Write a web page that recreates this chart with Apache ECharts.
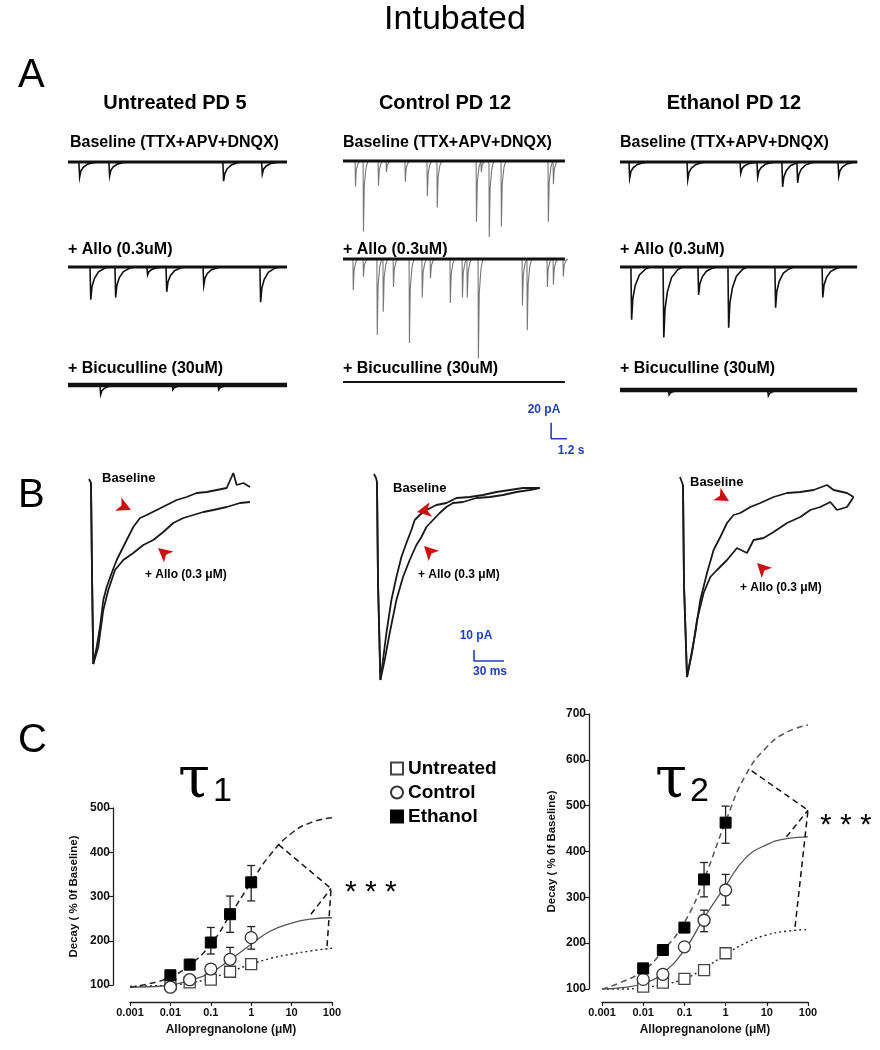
<!DOCTYPE html>
<html><head><meta charset="utf-8">
<script src="https://cdn.jsdelivr.net/npm/echarts/dist/echarts.min.js"></script>
<style>html,body{margin:0;padding:0;background:#fff}#c{width:880px;height:1050px}</style>
</head><body><div id="c"></div>
<script>
// ================= DATA =================
// Panel A: recorded mIPSC events [time (s), amplitude (pA)]
const untreatedBaselineEvents = [[0.45,-19],[1.69,-17.5],[6.4,-24],[8.0,-15]];
const untreatedAlloEvents     = [[0.91,-41],[1.94,-38],[3.26,-10],[4.05,-31],[5.58,-23],[7.93,-44]];
const untreatedBicuEvents     = [[1.32,-12],[4.3,-6],[6.2,-6]];
const controlBaselineEvents   = [[0.5,-32],[0.83,-88],[1.45,-31],[1.78,-14],[2.56,-26],[3.47,-44],[3.88,-58],[5.5,-76],[5.7,-14],[6.03,-95],[6.53,-82],[8.47,-76],[8.68,-29]];
const controlAlloEvents       = [[0.41,-39],[0.83,-22],[1.4,-95],[1.65,-66],[2.07,-35],[2.73,-105],[3.26,-48],[3.6,-24],[4.42,-55],[4.92,-48],[5.12,-48],[5.58,-124],[7.4,-58],[7.6,-89],[8.43,-35],[8.68,-32],[9.09,-22]];
const controlBicuEvents       = [];
const ethanolBaselineEvents   = [[0.37,-20],[2.77,-22],[4.96,-14],[5.66,-19],[6.69,-31],[7.31,-26],[9.01,-18]];
const ethanolAlloEvents       = [[0.45,-66],[1.78,-88],[3.22,-35],[4.46,-76],[6.4,-51],[8.35,-38]];
const ethanolBicuEvents       = [[2.0,-6],[6.1,-7]];
const traceDurations = [9.05, 9.17, 9.8];          // s
const scaleBarA = [[8.6,-51],[8.6,-71],[9.8,-71]]; // 20 pA / 1.2 s

// Panel B: averaged mIPSC traces [time (ms), current (pA)]
const bUntreatedBaseline = [[-2,4],[0,0],[1,-90],[2.3,-181],[5.7,-164],[9,-144],[12.3,-117],[15.7,-104],[20.7,-90],[25.7,-77],[30.7,-67],[35.7,-57],[42.3,-44],[49,-35],[55.7,-32],[65.7,-27],[75.7,-22],[85.7,-17],[95.7,-14],[105.7,-10],[115.7,-9],[125.7,-7],[135.7,-5],[142.3,10],[145.7,-2],[152.3,0],[159,-4]];
const bUntreatedAllo     = [[0,0],[1,-90],[2.3,-181],[7.3,-164],[12.3,-127],[17.3,-107],[24,-87],[32.3,-77],[42.3,-70],[52.3,-62],[62.3,-57],[72.3,-49],[82.3,-40],[92.3,-35],[102.3,-32],[112.3,-29],[122.3,-27],[135.7,-24],[149,-20],[159,-19]];
const bControlBaseline   = [[-3,8],[-1,4],[0,0],[1,-100],[3.4,-198],[6,-178],[9.4,-151],[14.4,-118],[19.4,-95],[24.4,-75],[29.4,-61],[34.4,-48],[37.7,-38],[42.7,-33],[49.4,-28],[59.4,-23],[69.4,-21],[79.4,-16],[92.7,-15],[106,-13],[119.4,-10],[132.7,-8],[146,-6],[162.7,-6]];
const bControlAllo       = [[0,0],[1,-100],[3.4,-198],[7.7,-178],[12.7,-151],[19.4,-118],[26,-95],[32.7,-78],[39.4,-63],[44.4,-55],[49.4,-45],[56,-38],[62.7,-31],[69.4,-25],[76,-21],[86,-20],[99.4,-16],[112.7,-15],[126,-13],[139.4,-10],[152.7,-8],[162.7,-6]];
const bEthanolBaseline   = [[-3,8],[0,0],[1,-100],[4,-192],[7.3,-175],[12.3,-148],[17.3,-115],[24,-88],[30.6,-65],[37.3,-52],[44,-38],[50.6,-30],[57.3,-28],[67.3,-22],[77.3,-18],[90.6,-12],[104,-8],[117.3,-7],[130.6,-5],[144,0],[150.6,-5],[164,-8],[170.6,-12]];
const bEthanolAllo       = [[0,0],[1,-100],[4,-192],[9,-168],[14,-135],[20.6,-108],[27.3,-92],[34,-85],[44,-75],[54,-63],[64,-68],[70.6,-55],[80.6,-53],[90.6,-47],[104,-38],[117.3,-32],[127.3,-25],[137.3,-22],[147.3,-17],[154,-25],[164,-22],[170.6,-12]];
const bArrowsUntreated = [[40,-27],[67,-65]];
const bArrowsControl   = [[40,-30],[47,-64]];
const bArrowsEthanol   = [[46,-16],[74,-78]];
const scaleBarB = [[97,-168],[97,-179],[127,-179]]; // 10 pA / 30 ms

// Panel C: dose-response (% of baseline)
const doses = [0.01, 0.03, 0.1, 0.3, 1];
const tau1Untreated = [102,106,112,130,147];
const tau1Control   = [95,112,136,158,207];
const tau1Ethanol   = [122,146,196,260,332];
const tau1UntreatedLow = [99,103,108,126,143], tau1UntreatedHigh = [105,109,116,134,151];
const tau1ControlLow   = [92,108,130,150,181], tau1ControlHigh   = [98,116,142,185,232];
const tau1EthanolLow   = [118,135,170,219,290], tau1EthanolHigh  = [127,158,230,301,370];
const tau2Untreated = [105,114,122,141,178];
const tau2Control   = [121,132,192,250,316];
const tau2Ethanol   = [145,185,234,339,463];
const tau2UntreatedLow = [102,110,118,136,172], tau2UntreatedHigh = [108,118,127,147,184];
const tau2ControlLow   = [116,127,186,225,283], tau2ControlHigh   = [126,137,198,272,350];
const tau2EthanolLow   = [140,178,226,301,418], tau2EthanolHigh   = [150,192,242,376,499];
const fitDoses = [0.001,0.003,0.01,0.03,0.1,0.3,1,3,10,30,100];
const tau1UntreatedFit = [97,98,100,105,115,130,147,160,170,177,183];
const tau1ControlFit   = [95,96,100,110,128,157,192,222,240,249,252];
const tau1EthanolFit   = [95,103,118,145,192,258,332,395,443,467,478];
const tau2UntreatedFit = [100,100,103,110,122,145,175,200,218,226,230];
const tau2ControlFit   = [100,103,112,135,185,255,325,385,415,428,432];
const tau2EthanolFit   = [100,115,140,183,245,340,465,565,628,660,676];
const tau1BracketA = [[4.8,417],[95,318],[75,185]];
const tau1BracketB = [[30,260],[95,318]];
const tau2BracketA = [[4.3,576],[100,490],[48,232]];
const tau2BracketB = [[30,432],[100,490]];
const yTicksTau1 = [100,500,100]; // min,max,step
const yTicksTau2 = [100,700,100];
const xLabelsLog = ['0.001','0.01','0.1','1','10','100'];

// ================= BUILD =================
const FF = "'Liberation Sans', Arial, Helvetica, sans-serif";
const grids = [], xAxes = [], yAxes = [], series = [];
function addGrid(g, x, y) {
  grids.push(g); const i = grids.length - 1;
  xAxes.push(Object.assign({ gridIndex: i }, x));
  yAxes.push(Object.assign({ gridIndex: i }, y));
  return i;
}
const kernelSlow = [[0,0],[0.03,1],[0.08,0.6],[0.18,0.35],[0.35,0.15],[0.6,0.04],[0.8,0]];
const kernelFast = [[0,0],[0.015,1],[0.05,0.35],[0.12,0.1],[0.2,0]];
function eventRenderer(kernel, color, lw) {
  return function (params, api) {
    const t = api.value(0), a = api.value(1);
    const pts = kernel.map(k => api.coord([t + k[0], a * k[1]]));
    return { type: 'polyline', shape: { points: pts }, style: { stroke: color, lineWidth: lw, fill: null } };
  };
}
// ---- Panel A ----
const PX_PER_S = 24.2, PX_PER_PA = 0.8;
const aCols = [
  { left: 68,  rows: [162, 267, 385], ev: [untreatedBaselineEvents, untreatedAlloEvents, untreatedBicuEvents], kernel: kernelSlow, color: '#111', lw: 1.6, base: [3, 3, 4.5] },
  { left: 343, rows: [161, 259, 382], ev: [controlBaselineEvents, controlAlloEvents, controlBicuEvents], kernel: kernelFast, color: '#777', lw: 1.1, base: [3, 3, 2] },
  { left: 620, rows: [162, 267, 390], ev: [ethanolBaselineEvents, ethanolAlloEvents, ethanolBicuEvents], kernel: kernelSlow, color: '#111', lw: 1.6, base: [3, 3.2, 4.5] }
];
aCols.forEach((col, c) => {
  const dur = traceDurations[c];
  col.rows.forEach((by, r) => {
    const gi = addGrid({ left: col.left, top: by - 8, width: dur * PX_PER_S, height: 130 * PX_PER_PA },
      { type: 'value', min: 0, max: dur, show: false },
      { type: 'value', min: -120, max: 10, show: false });
    series.push({ type: 'line', xAxisIndex: gi, yAxisIndex: gi, data: [[0, 0], [dur, 0]], symbol: 'none', silent: true,
      lineStyle: { color: '#111', width: col.base[r] } });
    series.push({ type: 'custom', xAxisIndex: gi, yAxisIndex: gi, data: col.ev[r], silent: true,
      renderItem: eventRenderer(col.kernel, col.color, col.lw) });
    if (c === 1 && r === 2) {
      series.push({ type: 'line', xAxisIndex: gi, yAxisIndex: gi, data: scaleBarA, symbol: 'none', clip: false, silent: true,
        lineStyle: { color: '#1f3fbf', width: 1.6 } });
    }
  });
});
// ---- Panel B ----
const bCols = [
  { x0: 91,  y0: 483, base: bUntreatedBaseline, allo: bUntreatedAllo, arrows: bArrowsUntreated, rot: [-115, 50] },
  { x0: 377, y0: 482, base: bControlBaseline,   allo: bControlAllo,   arrows: bArrowsControl,   rot: [100, 45] },
  { x0: 683, y0: 485, base: bEthanolBaseline,   allo: bEthanolAllo,   arrows: bArrowsEthanol,   rot: [-120, 45] }
];
bCols.forEach((col, c) => {
  const gi = addGrid({ left: col.x0 - 10, top: col.y0 - 20, width: 190, height: 220 },
    { type: 'value', min: -10, max: 180, show: false },
    { type: 'value', min: -200, max: 20, show: false });
  [col.base, col.allo].forEach(d => series.push({ type: 'line', xAxisIndex: gi, yAxisIndex: gi, data: d, symbol: 'none', clip: false, silent: true,
    lineStyle: { color: '#1a1a1a', width: 1.8 } }));
  col.arrows.forEach((p, k) => series.push({ type: 'scatter', xAxisIndex: gi, yAxisIndex: gi, data: [p], symbol: 'arrow', symbolSize: [11, 14],
    symbolRotate: col.rot[k], itemStyle: { color: '#cc1010', opacity: 1 }, silent: true, z: 6 }));
  if (c === 1) series.push({ type: 'line', xAxisIndex: gi, yAxisIndex: gi, data: scaleBarB, symbol: 'none', clip: false, silent: true,
    lineStyle: { color: '#1f3fbf', width: 1.6 } });
});
// ---- Panel C ----
function logLabel(v) { const e = Math.round(Math.log10(v)); return xLabelsLog[e + 3] || String(v); }
function errRender(params, api) {
  const x = api.value(0), lo = api.value(1), hi = api.value(2);
  const a = api.coord([x, lo]), b = api.coord([x, hi]), w = 4;
  const st = { stroke: '#222', lineWidth: 1.3 };
  return { type: 'group', children: [
    { type: 'line', shape: { x1: a[0], y1: a[1], x2: b[0], y2: b[1] }, style: st },
    { type: 'line', shape: { x1: b[0] - w, y1: b[1], x2: b[0] + w, y2: b[1] }, style: st },
    { type: 'line', shape: { x1: a[0] - w, y1: a[1], x2: a[0] + w, y2: a[1] }, style: st }
  ] };
}
const zip = (xs, ys) => xs.map((x, i) => [x, ys[i]]);
const cPlots = [
  { left: 130, top: 808, width: 202, height: 177, yt: yTicksTau1, off: 17, gap: 33, ethColor: '#222',
    fits: [tau1UntreatedFit, tau1ControlFit, tau1EthanolFit], vals: [tau1Untreated, tau1Control, tau1Ethanol],
    lows: [tau1UntreatedLow, tau1ControlLow, tau1EthanolLow], highs: [tau1UntreatedHigh, tau1ControlHigh, tau1EthanolHigh],
    brackets: [tau1BracketA, tau1BracketB] },
  { left: 602, top: 714, width: 206, height: 275, yt: yTicksTau2, off: 13, gap: 31, ethColor: '#555',
    fits: [tau2UntreatedFit, tau2ControlFit, tau2EthanolFit], vals: [tau2Untreated, tau2Control, tau2Ethanol],
    lows: [tau2UntreatedLow, tau2ControlLow, tau2EthanolLow], highs: [tau2UntreatedHigh, tau2ControlHigh, tau2EthanolHigh],
    brackets: [tau2BracketA, tau2BracketB] }
];
const groupNames = ['Untreated', 'Control', 'Ethanol'];
const fitStyles = [
  { color: '#222', width: 1.4, type: [2, 3] },
  { color: '#555', width: 1.3, type: 'solid' },
  { color: '#222', width: 1.5, type: [6, 4] }
];
const markStyles = [
  { symbol: 'rect', symbolSize: 11, itemStyle: { color: '#fff', borderColor: '#444', borderWidth: 1.3, opacity: 1 } },
  { symbol: 'circle', symbolSize: 12, itemStyle: { color: '#fff', borderColor: '#333', borderWidth: 1.3, opacity: 1 } },
  { symbol: 'rect', symbolSize: 11, itemStyle: { color: '#000', borderColor: '#000', borderWidth: 1, opacity: 1 } }
];
cPlots.forEach((p, pi) => {
  const gi = addGrid({ left: p.left, top: p.top, width: p.width, height: p.height },
    { type: 'log', logBase: 10, min: 0.001, max: 100, offset: p.off,
      axisLine: { show: true, lineStyle: { color: '#222', width: 1.3 } },
      axisTick: { show: true, length: 4, lineStyle: { color: '#222', width: 1.2 } },
      axisLabel: { formatter: logLabel, fontFamily: FF, fontWeight: 'bold', fontSize: 11, color: '#111', margin: 5 },
      splitLine: { show: false }, minorTick: { show: false },
      name: 'Allopregnanolone (μM)', nameLocation: 'middle', nameGap: 22,
      nameTextStyle: { fontFamily: FF, fontWeight: 'bold', fontSize: 12, color: '#111' } },
    { type: 'value', min: p.yt[0], max: p.yt[1], interval: p.yt[2], offset: p.off,
      axisLine: { show: true, lineStyle: { color: '#222', width: 1.3 } },
      axisTick: { show: true, length: 5, lineStyle: { color: '#222', width: 1.2 } },
      axisLabel: { fontFamily: FF, fontWeight: 'bold', fontSize: 12, color: '#111', margin: 3 },
      splitLine: { show: false },
      name: 'Decay ( % 0f Baseline)', nameLocation: 'middle', nameGap: p.gap,
      nameTextStyle: { fontFamily: FF, fontWeight: 'bold', fontSize: 11.5, color: '#111' } });
  p.fits.forEach((f, k) => {
    const ls = Object.assign({}, fitStyles[k]);
    if (k === 2) ls.color = p.ethColor;
    series.push({ type: 'line', xAxisIndex: gi, yAxisIndex: gi, data: zip(fitDoses, f), smooth: true,
      symbol: 'none', clip: false, silent: true, z: 2, lineStyle: ls });
  });
  p.brackets.forEach(b => series.push({ type: 'line', xAxisIndex: gi, yAxisIndex: gi, data: b, symbol: 'none', clip: false, silent: true, z: 2,
    lineStyle: { color: '#111', width: 1.5, type: [6, 4] } }));
  [0, 1, 2].forEach(k => {
    series.push({ type: 'custom', xAxisIndex: gi, yAxisIndex: gi, silent: true, z: 3,
      data: doses.map((d, i) => [d, p.lows[k][i], p.highs[k][i]]), renderItem: errRender });
  });
  [0, 1, 2].forEach(k => {
    series.push(Object.assign({ type: 'scatter', name: groupNames[k], xAxisIndex: gi, yAxisIndex: gi, silent: true, z: 5,
      clip: false, data: zip(doses, p.vals[k]) }, markStyles[k]));
  });
});

// ---- Texts ----
function txt(x, y, text, size, weight, align, color, family) {
  return { type: 'text', x: x, y: y, silent: true, z: 10, style: { text: text, fontSize: size, fontWeight: weight || 'normal',
    fontFamily: family || FF, fill: color || '#000', align: align || 'left', verticalAlign: 'middle' } };
}
const blue = '#2040c0';
const graphics = [
  txt(455, 20, 'Intubated', 34, 'normal', 'center'),
  txt(18, 76, 'A', 40), txt(18, 496, 'B', 40), txt(18, 741, 'C', 40),
  txt(175, 103, 'Untreated PD 5', 20, 'bold', 'center'),
  txt(445, 103, 'Control PD 12', 20, 'bold', 'center'),
  txt(734, 103, 'Ethanol PD 12', 20, 'bold', 'center'),
  txt(70, 143, 'Baseline (TTX+APV+DNQX)', 16, 'bold'),
  txt(343, 143, 'Baseline (TTX+APV+DNQX)', 16, 'bold'),
  txt(620, 143, 'Baseline (TTX+APV+DNQX)', 16, 'bold'),
  txt(68, 250, '+ Allo (0.3uM)', 16, 'bold'),
  txt(343, 250, '+ Allo (0.3uM)', 16, 'bold'),
  txt(620, 250, '+ Allo (0.3uM)', 16, 'bold'),
  txt(68, 369, '+ Bicuculline (30uM)', 16, 'bold'),
  txt(343, 369, '+ Bicuculline (30uM)', 16, 'bold'),
  txt(620, 369, '+ Bicuculline (30uM)', 16, 'bold'),
  txt(544, 410, '20 pA', 12, 'bold', 'center', blue),
  txt(571, 451, '1.2 s', 12, 'bold', 'center', blue),
  txt(102, 478, 'Baseline', 13, 'bold'),
  txt(145, 575, '+ Allo (0.3 μM)', 12, 'bold'),
  txt(393, 488, 'Baseline', 13, 'bold'),
  txt(418, 575, '+ Allo (0.3 μM)', 12, 'bold'),
  txt(690, 482, 'Baseline', 13, 'bold'),
  txt(740, 588, '+ Allo (0.3 μM)', 12, 'bold'),
  txt(476, 636, '10 pA', 12, 'bold', 'center', blue),
  txt(490, 672, '30 ms', 12, 'bold', 'center', blue),
  txt(178, 782, 'τ', 58, 'normal', 'left', '#000', "'DejaVu Serif', serif"),
  txt(213, 792, '1', 34),
  txt(655, 782, 'τ', 58, 'normal', 'left', '#000', "'DejaVu Serif', serif"),
  txt(690, 792, '2', 34),
  txt(345, 893, '* * *', 30),
  txt(820, 826, '* * *', 30)
];

const chart = echarts.init(document.getElementById('c'), null, { renderer: 'canvas', width: 880, height: 1050 });
chart.setOption({
  backgroundColor: '#fff', animation: false,
  textStyle: { fontFamily: FF },
  legend: { show: true, orient: 'vertical', left: 385, top: 754, itemWidth: 12, itemHeight: 12, itemGap: 5, selectedMode: false,
    data: groupNames, textStyle: { fontFamily: FF, fontSize: 19, fontWeight: 'bold', color: '#000' } },
  grid: grids, xAxis: xAxes, yAxis: yAxes, series: series, graphic: graphics
});
</script></body></html>
